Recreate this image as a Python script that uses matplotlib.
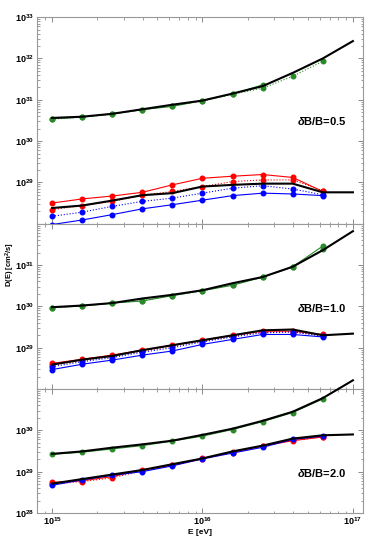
import matplotlib
matplotlib.use('Agg')
import matplotlib.pyplot as plt
import numpy as np
from matplotlib.ticker import LogLocator, NullFormatter

plt.rcParams['font.family'] = ['Liberation Sans', 'DejaVu Sans']
plt.rcParams['mathtext.fontset'] = 'custom'
plt.rcParams['mathtext.rm'] = 'Liberation Sans:bold'
plt.rcParams['mathtext.it'] = 'Liberation Sans:bold:italic'

# energies (log10 eV)
logE = [15.0, 15.2, 15.4, 15.6, 15.8, 16.0, 16.2, 16.4, 16.6, 16.8]
logE_th = logE + [17.0]

# panel 1: dB/B = 0.5  (log10 D)
p1_black_hi = [30.56, 30.59, 30.66, 30.77, 30.88, 30.98, 31.15, 31.33, 31.65, 32.0, 32.42]
p1_black_lo = [28.38, 28.44, 28.56, 28.69, 28.74, 28.90, 28.94, 28.97, 28.97, 28.76, 28.76]
p1_green = [30.54, 30.58, 30.66, 30.76, 30.84, 30.98, 31.14, 31.36]
p1_green_dot = [30.53, 30.58, 30.65, 30.76, 30.85, 30.97, 31.13, 31.28, 31.57, 31.93]
p1_red = [28.50, 28.60, 28.67, 28.76, 28.94, 29.10, 29.15, 29.19, 29.12, 28.78]
p1_red_dot = [28.34, 28.44, 28.54, 28.69, 28.78, 28.90, 29.02, 29.06, 29.06, 28.80]
p1_blue = [27.98, 28.09, 28.22, 28.36, 28.46, 28.57, 28.68, 28.74, 28.72, 28.68]
p1_blue_dot = [28.18, 28.28, 28.42, 28.54, 28.62, 28.74, 28.86, 28.92, 28.84, 28.70]

# panel 2: dB/B = 1.0
p2_black_hi = [29.98, 30.02, 30.08, 30.19, 30.28, 30.39, 30.56, 30.71, 30.96, 31.36, 31.82]
p2_black_lo = [28.59, 28.71, 28.80, 28.94, 29.06, 29.18, 29.30, 29.42, 29.44, 29.30, 29.34]
p2_green = [29.97, 30.01, 30.08, 30.13, 30.26, 30.38, 30.51, 30.71, 30.96, 31.46]
p2_green_dot = [29.97, 30.01, 30.08, 30.14, 30.26, 30.38, 30.52, 30.71, 30.95, 31.38]
p2_red = [28.62, 28.72, 28.82, 28.94, 29.06, 29.18, 29.30, 29.40, 29.40, 29.32]
p2_red_dot = [28.58, 28.69, 28.79, 28.92, 29.04, 29.16, 29.28, 29.38, 29.38, 29.30]
p2_blue = [28.47, 28.60, 28.70, 28.82, 28.92, 29.08, 29.20, 29.32, 29.32, 29.26]
p2_blue_dot = [28.54, 28.66, 28.76, 28.89, 29.00, 29.14, 29.26, 29.36, 29.38, 29.28]

# panel 3: dB/B = 2.0
p3_black_hi = [29.43, 29.49, 29.58, 29.66, 29.75, 29.89, 30.04, 30.23, 30.45, 30.78, 31.21]
p3_black_lo = [28.71, 28.82, 28.93, 29.04, 29.18, 29.32, 29.49, 29.63, 29.80, 29.88, 29.90]
p3_green = [29.42, 29.47, 29.55, 29.63, 29.74, 29.86, 30.02, 30.21, 30.43, 30.76]
p3_red = [28.74, 28.78, 28.88, 29.04, 29.16, 29.32, 29.47, 29.62, 29.75, 29.84]
p3_red_dot = [28.70, 28.76, 28.85, 29.02, 29.15, 29.30, 29.46, 29.61, 29.76, 29.84]
p3_blue = [28.67, 28.80, 28.91, 29.00, 29.14, 29.31, 29.45, 29.59, 29.78, 29.86]

labels = [r'$\delta$B/B=0.5', r'$\delta$B/B=1.0', r'$\delta$B/B=2.0']
ylims = [(28, 33), (28, 32), (28, 31)]
shown = [[29, 30, 31, 32, 33], [29, 30, 31], [28, 29, 30]]
text_y = [0.495, 0.488, 0.325]

GREEN = '#2a8a2a'
frame = '#999999'

fig = plt.figure(figsize=(3.68, 5.52), dpi=100)
gs = fig.add_gridspec(3, 1, height_ratios=[5, 4, 3], hspace=0,
                      left=0.1005, right=0.986, top=0.969, bottom=0.0707)
axes = [fig.add_subplot(gs[i]) for i in range(3)]

def pw(v):
    return 10.0 ** np.array(v)

E = pw(logE)
Eth = pw(logE_th)

def series(ax, y, color, ls='-'):
    n = len(y)
    ax.plot(E[:n], pw(y), color=color, ls=ls, lw=0.8, marker='o', ms=3.3,
            mec=color, mfc=color, clip_on=False, zorder=3)

panels = [
    (p1_black_hi, p1_black_lo, [(p1_green, GREEN, '-'), (p1_green_dot, GREEN, ':'),
                                (p1_red, 'red', '-'), (p1_red_dot, 'red', ':'),
                                (p1_blue, 'blue', '-'), (p1_blue_dot, 'blue', ':')]),
    (p2_black_hi, p2_black_lo, [(p2_green, GREEN, '-'), (p2_green_dot, GREEN, ':'),
                                (p2_red, 'red', '-'), (p2_red_dot, 'red', ':'),
                                (p2_blue, 'blue', '-'), (p2_blue_dot, 'blue', ':')]),
    (p3_black_hi, p3_black_lo, [(p3_green, GREEN, '-'),
                                (p3_red, 'red', '-'), (p3_red_dot, 'red', ':'),
                                (p3_blue, 'blue', '-')]),
]

for i, ax in enumerate(axes):
    hi, lo, sets = panels[i]
    for y, c, ls in sets:
        series(ax, y, c, ls)
    ax.plot(Eth, pw(hi), color='black', lw=1.5, zorder=4, clip_on=False)
    ax.plot(Eth, pw(lo), color='black', lw=1.5, zorder=4, clip_on=False)

    ax.set_xscale('log')
    ax.set_yscale('log')
    ax.set_xlim(10 ** 14.9, 10 ** 17.066)
    ax.set_ylim(10.0 ** ylims[i][0], 10.0 ** ylims[i][1])

    decs = list(range(ylims[i][0], ylims[i][1] + 1))
    ax.set_yticks([10.0 ** d for d in decs])
    ax.set_yticklabels([r'$10^{%d}$' % d if d in shown[i] else '' for d in decs])
    ax.yaxis.set_minor_locator(LogLocator(base=10, subs=np.arange(2, 10), numticks=20))
    ax.yaxis.set_minor_formatter(NullFormatter())

    ax.set_xticks([1e15, 1e16, 1e17])
    ax.xaxis.set_minor_locator(LogLocator(base=10, subs=np.arange(2, 10), numticks=20))
    ax.xaxis.set_minor_formatter(NullFormatter())
    if i < 2:
        ax.set_xticklabels([])
    else:
        ax.set_xticklabels([r'$10^{15}$', r'$10^{16}$', r'$10^{17}$'])

    ax.tick_params(which='both', direction='in', top=True, right=True,
                   colors='#777777', labelcolor='black', labelsize=6.5, pad=2)
    ax.tick_params(which='major', length=3.5, width=0.6)
    ax.tick_params(which='minor', length=1.8, width=0.5)
    for s in ax.spines.values():
        s.set_color(frame)
        s.set_linewidth(0.8)

    ax.text(0.95, text_y[i], labels[i], transform=ax.transAxes, ha='right',
            va='center', fontsize=8, fontweight='bold')

axes[2].set_xlabel('E [eV]', fontsize=6, fontweight='bold', labelpad=1)
fig.text(0.028, 0.52, r'D(E) [cm$^2$/s]', rotation=90, fontsize=5.5,
         fontweight='bold', ha='center', va='center')

fig.savefig('out.png', dpi=100)
